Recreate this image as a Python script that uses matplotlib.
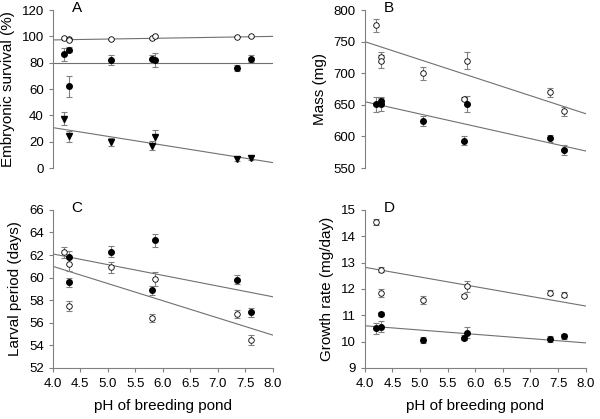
import numpy as np
import matplotlib
matplotlib.use("Agg")
import matplotlib.pyplot as plt

plt.rcParams['font.family'] = ['Liberation Sans', 'DejaVu Sans']

# pH of the breeding ponds
ph = [4.2, 4.3, 4.3, 5.05, 5.8, 5.85, 7.35, 7.6]
fit_x = [4.0, 8.0]

# A: embryonic survival (%)
surv_open = [98.5, 97.7, 97.5, 97.7, 98.5, 100.2, 99.7, 100.0]
surv_open_err = [0.5, 0.5, 0.5, 0.5, 0.5, 0.5, 0.5, 0.5]
surv_fill = [86.5, 90.0, 62.0, 82.0, 83.0, 82.0, 76.0, 83.0]
surv_fill_err = [5.0, 2.0, 8.0, 3.5, 3.0, 5.5, 2.5, 2.5]
ph_tri = [4.2, 4.3, 5.05, 5.8, 5.85, 7.35, 7.6]
surv_tri = [37.6, 24.0, 20.0, 17.0, 23.6, 7.0, 7.4]
surv_tri_err = [5.0, 4.0, 3.0, 3.5, 5.0, 1.5, 1.5]
surv_fit_open = [97.3, 100.0]
surv_fit_fill = [80.0, 80.0]
surv_fit_tri = [30.7, 4.1]

# B: mass (mg)
mass_open = [776, 725, 719, 700, 660, 720, 670, 640]
mass_open_err = [10, 8, 10, 10, 3, 13, 7, 7]
mass_fill = [651, 656, 651, 625, 593, 651, 597, 579]
mass_fill_err = [12, 6, 10, 8, 7, 13, 6, 8]
mass_fit_open = [750, 636]
mass_fit_fill = [655, 577]

# C: larval period (days)
larv_open = [62.24, 61.2, 57.5, 60.9, 56.4, 59.9, 56.8, 54.5]
larv_open_err = [0.5, 0.6, 0.45, 0.5, 0.35, 0.6, 0.35, 0.45]
ph_c_fill = [4.3, 4.3, 5.05, 5.8, 5.85, 7.35, 7.6]
larv_fill = [61.8, 59.6, 62.3, 58.9, 63.3, 59.8, 56.95]
larv_fill_err = [0.6, 0.4, 0.5, 0.4, 0.6, 0.4, 0.4]
larv_fit_a = [62.1, 58.3]
larv_fit_b = [61.0, 54.9]

# D: growth rate (mg/day)
grow_open = [14.53, 12.73, 11.85, 11.58, 11.74, 12.1, 11.85, 11.78]
grow_open_err = [0.12, 0.1, 0.15, 0.15, 0.05, 0.2, 0.1, 0.1]
grow_fill = [10.5, 11.04, 10.57, 10.06, 10.15, 10.34, 10.1, 10.2]
grow_fill_err = [0.2, 0.08, 0.2, 0.1, 0.1, 0.2, 0.12, 0.1]
grow_fit_open = [12.82, 11.35]
grow_fit_fill = [10.6, 9.95]

GREY = '#808080'
LINE = '#707070'


def points(ax, x, y, err, kind):
  ax.errorbar(x, y, yerr=err, fmt='none', ecolor=GREY, elinewidth=0.8,
              capsize=2.5, capthick=0.8, zorder=2)
  if kind == 'open':
    ax.plot(x, y, 'o', ms=4, mfc='white', mec='black', mew=0.6, zorder=3)
  elif kind == 'fill':
    ax.plot(x, y, 'o', ms=4, mfc='black', mec='black', zorder=3)
  else:
    ax.plot(x, y, 'v', ms=4.5, mfc='black', mec='black', zorder=3)


def style(ax, ylim, yticks, ylabel, letter, xaxis):
  ax.set_xlim(4.0, 8.0)
  ax.set_ylim(*ylim)
  ax.set_yticks(yticks)
  ax.set_ylabel(ylabel, fontsize=11, labelpad=5)
  for s in ['top', 'right']:
    ax.spines[s].set_visible(False)
  ax.spines['left'].set_color(GREY)
  ax.spines['bottom'].set_color(GREY)
  ax.tick_params(axis='y', colors=GREY, labelcolor='black', labelsize=9.5,
                 length=3, width=0.8)
  if xaxis:
    ax.set_xticks(np.arange(4.0, 8.01, 0.5))
    ax.set_xticklabels(['%.1f' % v for v in np.arange(4.0, 8.01, 0.5)])
    ax.tick_params(axis='x', colors=GREY, labelcolor='black', labelsize=9.5,
                   length=3, width=0.8, pad=4)
    ax.set_xlabel('pH of breeding pond', fontsize=11, labelpad=7)
  else:
    ax.spines['bottom'].set_visible(False)
    ax.set_xticks([])
  ax.text(0.11, 1.01, letter, transform=ax.transAxes, fontsize=11,
          ha='center', va='center')


fig = plt.figure(figsize=(6, 4.19), dpi=100)
axA = fig.add_axes([0.088, 0.599, 0.367, 0.377])
axB = fig.add_axes([0.608, 0.599, 0.368, 0.377])
axC = fig.add_axes([0.088, 0.122, 0.367, 0.377])
axD = fig.add_axes([0.608, 0.122, 0.368, 0.377])

# A
axA.plot(fit_x, surv_fit_open, color=LINE, lw=0.8, zorder=1)
axA.plot(fit_x, surv_fit_fill, color=LINE, lw=0.8, zorder=1)
axA.plot(fit_x, surv_fit_tri, color=LINE, lw=0.8, zorder=1)
points(axA, ph, surv_open, surv_open_err, 'open')
points(axA, ph, surv_fill, surv_fill_err, 'fill')
points(axA, ph_tri, surv_tri, surv_tri_err, 'tri')
style(axA, (0, 120), range(0, 121, 20), 'Embryonic survival (%)', 'A', False)

# B
axB.plot(fit_x, mass_fit_open, color=LINE, lw=0.8, zorder=1)
axB.plot(fit_x, mass_fit_fill, color=LINE, lw=0.8, zorder=1)
points(axB, ph, mass_open, mass_open_err, 'open')
points(axB, ph, mass_fill, mass_fill_err, 'fill')
style(axB, (550, 800), range(550, 801, 50), 'Mass (mg)', 'B', False)

# C
axC.plot(fit_x, larv_fit_a, color=LINE, lw=0.8, zorder=1)
axC.plot(fit_x, larv_fit_b, color=LINE, lw=0.8, zorder=1)
points(axC, ph, larv_open, larv_open_err, 'open')
points(axC, ph_c_fill, larv_fill, larv_fill_err, 'fill')
style(axC, (52, 66), range(52, 67, 2), 'Larval period (days)', 'C', True)

# D
axD.plot(fit_x, grow_fit_open, color=LINE, lw=0.8, zorder=1)
axD.plot(fit_x, grow_fit_fill, color=LINE, lw=0.8, zorder=1)
points(axD, ph, grow_open, grow_open_err, 'open')
points(axD, ph, grow_fill, grow_fill_err, 'fill')
style(axD, (9, 15), range(9, 16), 'Growth rate (mg/day)', 'D', True)

fig.savefig('out.png', dpi=100)
